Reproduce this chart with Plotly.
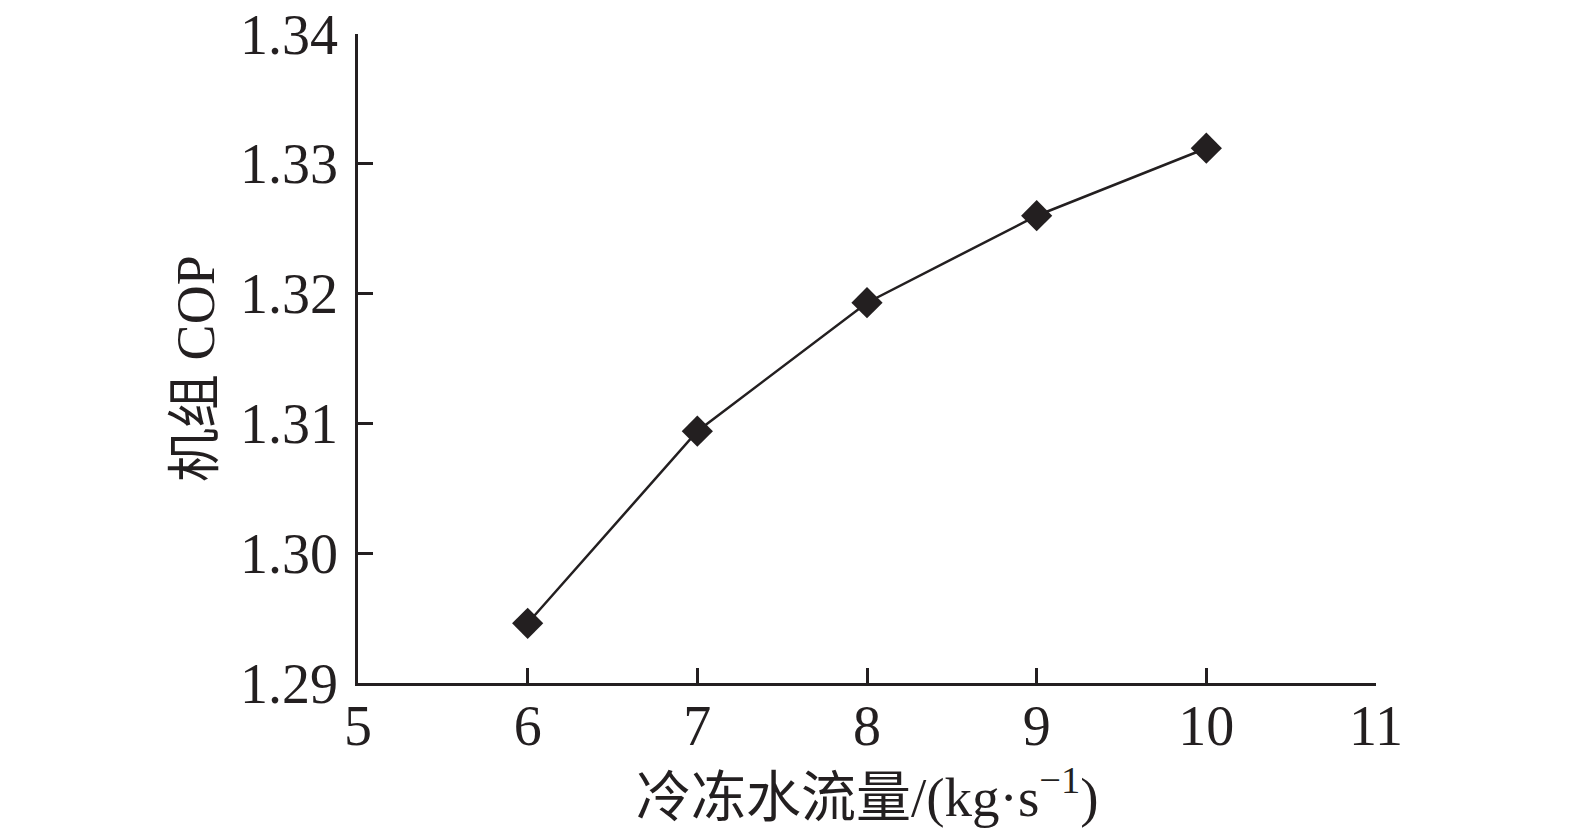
import plotly.graph_objects as go

flow = [6, 7, 8, 9, 10]
cop = [1.2946, 1.3094, 1.3193, 1.3260, 1.3312]

x_ticks = [5, 6, 7, 8, 9, 10, 11]
y_ticks = [1.29, 1.30, 1.31, 1.32, 1.33, 1.34]
y_labels = ["1.29", "1.30", "1.31", "1.32", "1.33", "1.34"]

x_title = "冷冻水流量/(kg·s<sup>−1</sup>)"
y_title = "机组 COP"

INK = "#231f20"
FONT = "Liberation Serif, Times New Roman, Noto Sans CJK SC, serif"

fig = go.Figure()
fig.add_trace(go.Scatter(
    x=flow,
    y=cop,
    mode="lines+markers",
    line=dict(color=INK, width=2.5),
    marker=dict(symbol="diamond", size=24, color=INK),
    showlegend=False,
))

# page body has an 8px margin, so the figure is 8px smaller than the window
fig.update_layout(
    width=1567,
    height=828,
    margin=dict(l=350, r=199, t=26, b=153),
    paper_bgcolor="white",
    plot_bgcolor="white",
    font=dict(family=FONT, color=INK, size=56),
)

axis_style = dict(
    ticks="inside",
    ticklen=15,
    tickwidth=2.5,
    tickcolor=INK,
    showline=True,
    linecolor=INK,
    linewidth=2.5,
    showgrid=False,
    zeroline=False,
    automargin=False,
    ticklabeloverflow="allow",
    tickfont=dict(size=56),
)
fig.update_xaxes(range=[5, 11], tickvals=x_ticks, ticklabelstandoff=-8, **axis_style)
fig.update_yaxes(range=[1.29, 1.34], tickvals=y_ticks, ticktext=y_labels,
                 ticklabelstandoff=6, **axis_style)

fig.add_annotation(text=x_title, xref="paper", yref="paper", x=0.5, y=0,
                   xanchor="center", yanchor="middle", yshift=-110,
                   showarrow=False, font=dict(size=55))
fig.add_annotation(text=y_title, xref="paper", yref="paper", x=0, y=0.484,
                   xanchor="center", yanchor="middle", xshift=-162, textangle=-90,
                   showarrow=False, font=dict(size=54))

fig.write_html("out.html")
